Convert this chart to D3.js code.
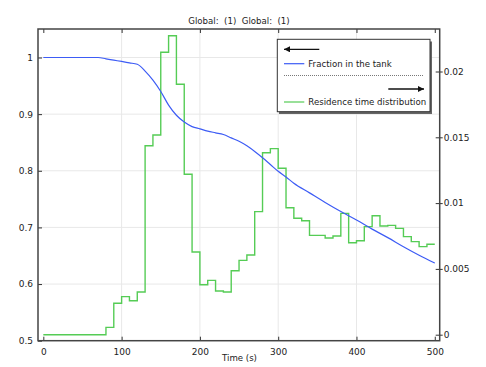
<!DOCTYPE html>
<html>
<head>
<meta charset="utf-8">
<script src="https://cdn.jsdelivr.net/npm/d3@7"></script>
<style>
  body { margin: 0; background: #fff; }
  svg text { font-family: "DejaVu Sans", sans-serif; fill: #222; }
</style>
</head>
<body>
<div id="chart"></div>
<script>
'use strict'

// fraction in the tank (left axis)
var tankTime = [0, 60, 70, 80, 90, 100, 110, 120, 130, 140, 150, 160, 170, 180, 190, 200, 210, 220, 230, 240,
  250, 260, 270, 280, 290, 300, 310, 320, 340, 360, 380, 400, 420, 440, 460, 480, 500];
var tankFraction = [1, 1, 1, 0.9977, 0.9953, 0.993, 0.9905, 0.988, 0.976, 0.960, 0.940, 0.916, 0.898, 0.886, 0.878, 0.874, 0.870, 0.867, 0.864, 0.858,
  0.852, 0.844, 0.834, 0.823, 0.811, 0.799, 0.789, 0.778, 0.761, 0.744, 0.728, 0.713, 0.697, 0.682, 0.666, 0.651, 0.637];

// residence time distribution (right axis), one value per 10 s bin
var binStart = d3.range(0, 500, 10);
var rtd = [0, 0, 0, 0, 0, 0, 0, 0, 0.00056, 0.00239,
  0.00289, 0.00258, 0.00325, 0.01436, 0.01518, 0.02146, 0.02272, 0.01903, 0.01219, 0.00629,
  0.0038, 0.00413, 0.00332, 0.00325, 0.00486, 0.00565, 0.00606, 0.00935, 0.01383, 0.01414,
  0.01265, 0.00965, 0.00885, 0.00866, 0.00755, 0.00755, 0.00735, 0.0075, 0.00922, 0.00699,
  0.00714, 0.00821, 0.00904, 0.00826, 0.00831, 0.00808, 0.00745, 0.00707, 0.00669, 0.00687];

var xTicks = [0, 100, 200, 300, 400, 500];
var leftTicks = [0.5, 0.6, 0.7, 0.8, 0.9, 1];
var rightTicks = [0, 0.005, 0.01, 0.015, 0.02];

var W = 486, H = 367;
var PLOT_L = 38, PLOT_R = 439.7, PLOT_T = 29, PLOT_B = 340.7;
var BLUE = '#3d5cf5', GREEN = '#55cc55';

var svg = d3.select('#chart').append('svg').attr('width', W).attr('height', H);

var x = d3.scaleLinear().domain([-6.8, 506.3]).range([PLOT_L, PLOT_R]);
var yL = d3.scaleLinear().domain([0.5, 1.0503]).range([PLOT_B, PLOT_T]);
var yR = d3.scaleLinear().domain([-0.000456, 0.02323]).range([PLOT_B, PLOT_T]);

// grid
var grid = svg.append('g');
grid.selectAll('line.vx').data(xTicks.filter(function (t) { return t > 0 && t < 500; })).enter().append('line')
  .attr('x1', function (d) { return x(d); }).attr('x2', function (d) { return x(d); })
  .attr('y1', PLOT_T).attr('y2', PLOT_B)
  .attr('stroke', '#e8e8e8').attr('stroke-width', 1);
grid.selectAll('line.hy').data(leftTicks.filter(function (t) { return t > 0.5; })).enter().append('line')
  .attr('x1', PLOT_L).attr('x2', PLOT_R)
  .attr('y1', function (d) { return yL(d); }).attr('y2', function (d) { return yL(d); })
  .attr('stroke', '#e8e8e8').attr('stroke-width', 1);

// clip
svg.append('clipPath').attr('id', 'clip').append('rect')
  .attr('x', PLOT_L).attr('y', PLOT_T).attr('width', PLOT_R - PLOT_L).attr('height', PLOT_B - PLOT_T);

// green step line
var stepPts = binStart.map(function (t, i) { return [t, rtd[i]]; });
stepPts.push([500, rtd[rtd.length - 1]]);
svg.append('path')
  .datum(stepPts)
  .attr('clip-path', 'url(#clip)')
  .attr('fill', 'none').attr('stroke', GREEN).attr('stroke-width', 1.4)
  .attr('d', d3.line().curve(d3.curveStepAfter)
    .x(function (d) { return x(d[0]); }).y(function (d) { return yR(d[1]); }));

// blue line
svg.append('path')
  .datum(tankTime.map(function (t, i) { return [t, tankFraction[i]]; }))
  .attr('clip-path', 'url(#clip)')
  .attr('fill', 'none').attr('stroke', BLUE).attr('stroke-width', 1.2)
  .attr('d', d3.line().curve(d3.curveMonotoneX)
    .x(function (d) { return x(d[0]); }).y(function (d) { return yL(d[1]); }));

// axes (ticks inside the frame)
var axB = svg.append('g').attr('transform', 'translate(0,' + PLOT_B + ')')
  .call(d3.axisBottom(x).tickValues(xTicks).tickSizeInner(-4).tickSizeOuter(0).tickPadding(8).tickFormat(d3.format('d')));
var axT = svg.append('g').attr('transform', 'translate(0,' + PLOT_T + ')')
  .call(d3.axisTop(x).tickValues(xTicks).tickSizeInner(-4).tickSizeOuter(0).tickFormat(''));
var axL = svg.append('g').attr('transform', 'translate(' + PLOT_L + ',0)')
  .call(d3.axisLeft(yL).tickValues(leftTicks).tickSizeInner(-4).tickSizeOuter(0).tickPadding(5).tickFormat(function (d) { return d === 1 ? '1' : d3.format('.1f')(d); }));
var axR = svg.append('g').attr('transform', 'translate(' + PLOT_R + ',0)')
  .call(d3.axisRight(yR).tickValues(rightTicks).tickSizeInner(-4).tickSizeOuter(0).tickPadding(4).tickFormat(function (d) { return d === 0 ? '0' : String(+d.toFixed(3)); }));

[axB, axT, axL, axR].forEach(function (a) {
  a.select('.domain').remove();
  a.selectAll('.tick line').attr('stroke', '#333').attr('stroke-width', 1);
  a.selectAll('.tick text').attr('font-size', '9px').attr('fill', '#222')
    .attr('font-family', '"DejaVu Sans", sans-serif');
});
// small dash outside the right frame, as in the reference
axR.selectAll('.tick').append('line').attr('x1', 0).attr('x2', 3).attr('stroke', '#333');

// frame
svg.append('rect')
  .attr('x', PLOT_L).attr('y', PLOT_T).attr('width', PLOT_R - PLOT_L).attr('height', PLOT_B - PLOT_T)
  .attr('fill', 'none').attr('stroke', '#444').attr('stroke-width', 1.5);

// titles
svg.append('text').attr('x', 239).attr('y', 23.5).attr('text-anchor', 'middle')
  .attr('font-size', '8.6px').attr('xml:space', 'preserve').text('Global:  (1)  Global:  (1)');
svg.append('text').attr('x', 239.5).attr('y', 360.5).attr('text-anchor', 'middle')
  .attr('font-size', '8.6px').text('Time (s)');

// legend
var lg = svg.append('g');
lg.append('rect').attr('x', 279).attr('y', 41.5).attr('width', 153).attr('height', 72.5).attr('fill', '#666');
lg.append('rect').attr('x', 277.3).attr('y', 39.3).attr('width', 152.7).attr('height', 72.4)
  .attr('fill', '#fff').attr('stroke', '#333').attr('stroke-width', 1);

svg.append('defs').append('marker').attr('id', 'arrow')
  .attr('viewBox', '0 -5 10 10').attr('refX', 10).attr('refY', 0)
  .attr('markerWidth', 6).attr('markerHeight', 6).attr('markerUnits', 'userSpaceOnUse').attr('orient', 'auto')
  .append('path').attr('d', 'M0,-5L10,0L0,5Z').attr('fill', '#111');

lg.append('line').attr('x1', 319.3).attr('x2', 284).attr('y1', 49.3).attr('y2', 49.3)
  .attr('stroke', '#111').attr('stroke-width', 1.3).attr('marker-end', 'url(#arrow)');
lg.append('line').attr('x1', 284).attr('x2', 304.3).attr('y1', 63.7).attr('y2', 63.7)
  .attr('stroke', BLUE).attr('stroke-width', 1.2);
lg.append('text').attr('x', 308.3).attr('y', 66.6).attr('font-size', '8.6px').text('Fraction in the tank');
lg.append('line').attr('x1', 284).attr('x2', 424).attr('y1', 75.5).attr('y2', 75.5)
  .attr('stroke', '#555').attr('stroke-width', 0.8).attr('stroke-dasharray', '1,1');
lg.append('line').attr('x1', 388.3).attr('x2', 424).attr('y1', 89).attr('y2', 89)
  .attr('stroke', '#111').attr('stroke-width', 1.3).attr('marker-end', 'url(#arrow)');
lg.append('line').attr('x1', 284).attr('x2', 304.3).attr('y1', 102).attr('y2', 102)
  .attr('stroke', GREEN).attr('stroke-width', 1.2);
lg.append('text').attr('x', 308.3).attr('y', 105).attr('font-size', '8.6px').text('Residence time distribution');
</script>
</body>
</html>
